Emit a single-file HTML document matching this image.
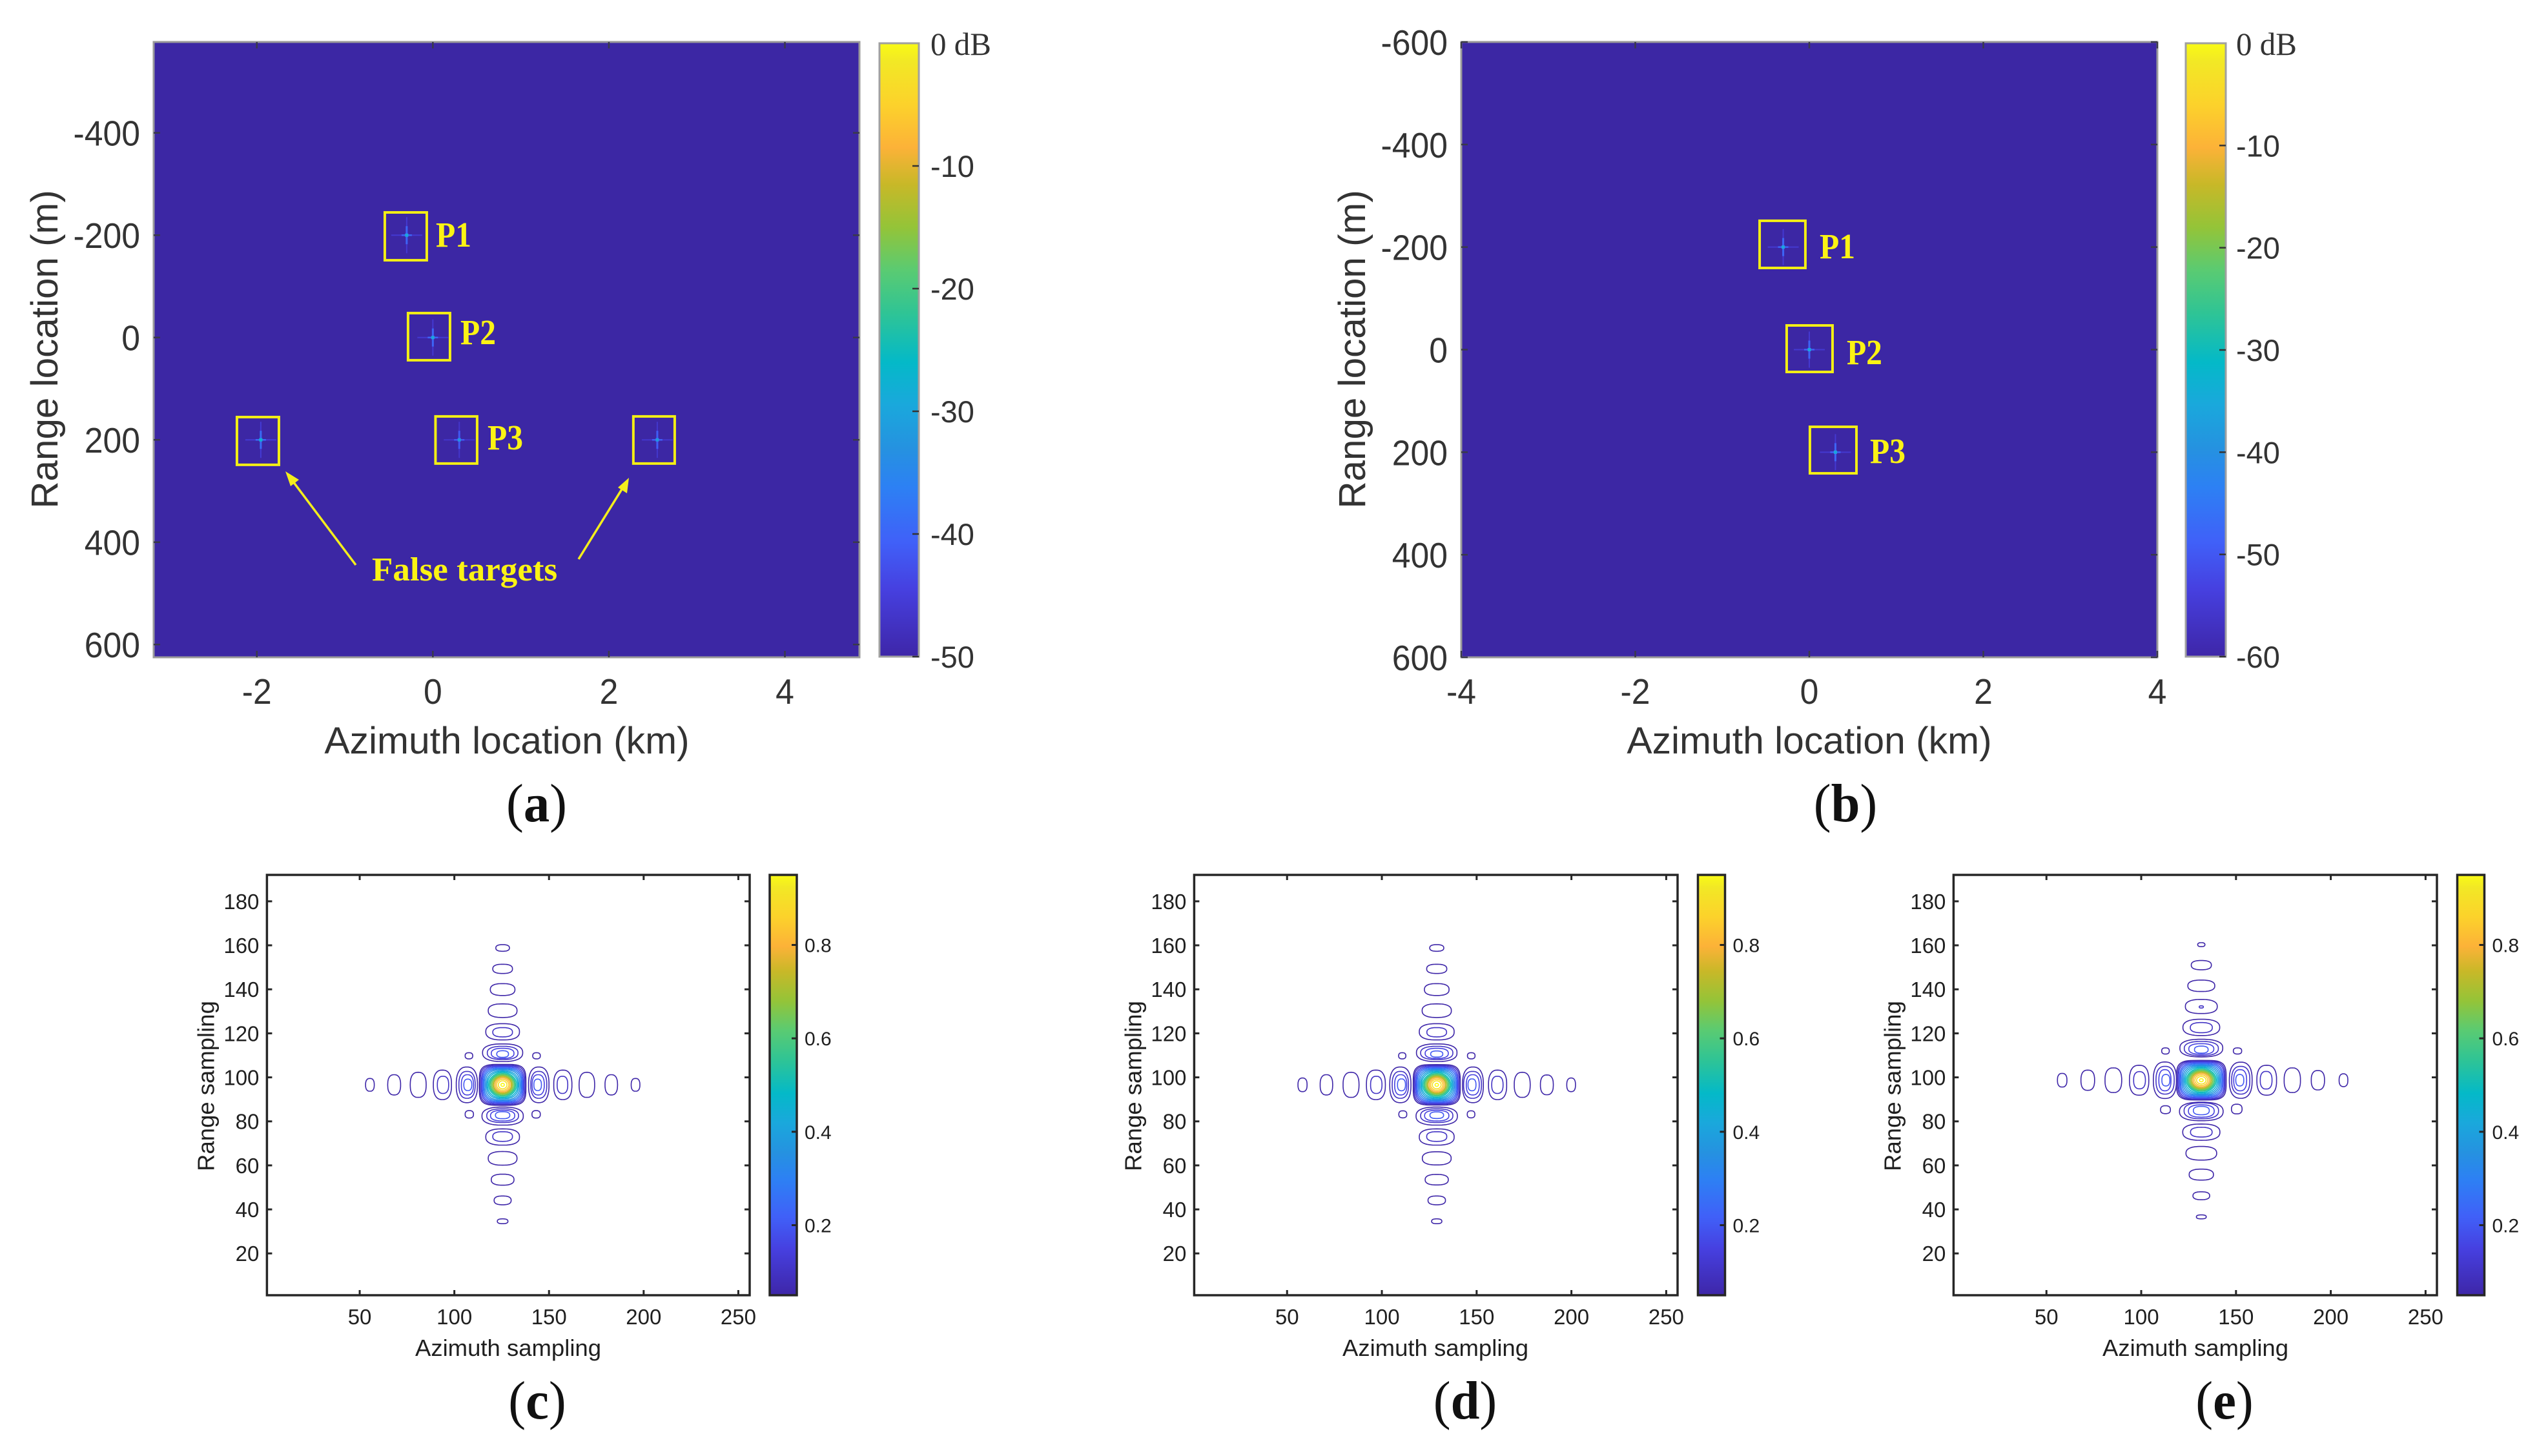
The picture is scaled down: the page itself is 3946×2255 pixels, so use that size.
<!DOCTYPE html>
<html lang="en">
<head>
<meta charset="utf-8">
<title>SAR point target imaging results</title>
<style>
html,body{margin:0;padding:0;background:#fff;}
svg{display:block;position:absolute;left:0;top:0;}
</style>
</head>
<body>
<svg id="figure" xmlns="http://www.w3.org/2000/svg" width="3946" height="2255" viewBox="0 0 3946 2255">
  <defs id="defs"></defs>
  <rect x="0" y="0" width="3946" height="2255" fill="#ffffff"></rect>
</svg>
<script>
/* ---------- top panel data (a, b) ---------- */
const azimuthTicksA = [-2, 0, 2, 4];
const rangeTicksA = [-400, -200, 0, 200, 400, 600];
const dbTicksA = [-10, -20, -30, -40, -50];
const azimuthTicksB = [-4, -2, 0, 2, 4];
const rangeTicksB = [-600, -400, -200, 0, 200, 400, 600];
const dbTicksB = [-10, -20, -30, -40, -50, -60];
/* target: azimuth km, range m, peak dB */
const targetsA = [[-0.297, -200, -30], [0.0, 0, -30], [0.30, 200, -33], [-1.955, 200, -28], [2.55, 200, -32]];
const targetsB = [[-0.3, -200, -36], [0.0, 0, -36], [0.3, 200, -36]];
/* box: azimuth min, azimuth max, range min, range max */
const boxesA = [[-0.546, -0.069, -244.5, -151], [-0.282, 0.195, -47.7, 44.4], [0.03, 0.503, 154.2, 246.3], [-2.226, -1.749, 155.5, 248.8], [2.278, 2.748, 154.2, 246.3]];
const boxesB = [[-0.571, -0.045, -251.3, -159.3], [-0.26, 0.267, -47.2, 43.5], [0.007, 0.542, 150.5, 241.2]];
const targetNamesA = ['P1', 'P2', 'P3'];
const targetNamesB = ['P1', 'P2', 'P3'];
const targetLabelPosA = [[0.034, -177.7], [0.313, 12.9], [0.621, 218.6]];
const targetLabelPosB = [[0.119, -178.2], [0.43, 28.3], [0.698, 221]];

/* ---------- bottom panel data (c, d, e) ---------- */
const azimuthSamplingTicks = [50, 100, 150, 200, 250];
const rangeSamplingTicks = [20, 40, 60, 80, 100, 120, 140, 160, 180];
const magnitudeTicks = [0.2, 0.4, 0.6, 0.8];
const mainLevels = [0.05, 0.10, 0.15, 0.20, 0.25, 0.30, 0.35, 0.40, 0.45, 0.50, 0.55, 0.60, 0.65, 0.70, 0.75, 0.80, 0.85, 0.90, 0.95];
const peakC = [125.5, 96.6];
const peakD = [128.95, 96.6];
const peakE = [131.7, 98.7];
const mainHalfAzC = [12.3, 11.8, 11.2, 10.7, 10.2, 9.7, 9.1, 8.5, 8.0, 7.4, 6.8, 6.3, 5.7, 5.1, 4.6, 3.9, 3.2, 2.3, 0.9];
const mainHalfRangeC = [9.3, 8.9, 8.5, 8.1, 7.7, 7.3, 6.9, 6.4, 6.0, 5.6, 5.1, 4.8, 4.4, 4.0, 3.6, 3.1, 2.5, 1.8, 0.7];
const mainHalfAzD = [12.4, 11.9, 11.3, 10.8, 10.3, 9.7, 9.1, 8.5, 8.0, 7.4, 6.8, 6.3, 5.7, 5.1, 4.6, 3.9, 3.2, 2.3, 0.9];
const mainHalfRangeD = [9.2, 8.8, 8.4, 8.0, 7.6, 7.2, 6.8, 6.4, 6.0, 5.6, 5.1, 4.8, 4.4, 4.0, 3.6, 3.1, 2.5, 1.8, 0.7];
const mainHalfAzE = [13.1, 12.5, 12.0, 11.4, 10.9, 10.3, 9.7, 9.1, 8.5, 7.9, 7.3, 6.7, 6.1, 5.5, 4.9, 4.2, 3.4, 2.5, 1.0];
const mainHalfRangeE = [9.0, 8.7, 8.3, 7.9, 7.5, 7.1, 6.7, 6.3, 5.9, 5.5, 5.0, 4.7, 4.3, 3.9, 3.5, 3.0, 2.4, 1.7, 0.7];
/* sidelobe ring: azimuth offset from peak, range offset from peak, half azimuth, half range, level */
const sidelobesC = [
 [-70.1,0,2.3,2.9,.05],[-57.3,0,3.4,4.6,.05],[-44.6,0,4.2,5.7,.05],[-31.8,0,4.8,6.7,.05],[-31.5,0,3.0,3.9,.1],
 [-18.9,0,5.6,8.1,.05],[-18.8,0,4.3,6.1,.1],[-18.6,0,3.2,4.6,.15],[-18.4,0,2.1,2.6,.2],
 [19.1,0,5.4,8.1,.05],[19.1,0,4.2,6.1,.1],[18.8,0,3.2,4.6,.15],[18.5,0,2.0,2.6,.2],
 [31.8,0,4.8,6.7,.05],[31.6,0,2.8,3.9,.1],[44.5,0,4.1,5.7,.05],[57.4,0,3.3,4.6,.05],[70.2,0,2.3,2.9,.05],
 [0,62.2,3.6,1.5,.05],[0,52.7,5.2,2.1,.05],[0,43.3,6.5,2.7,.05],[0,33.7,7.6,3.1,.05],[0,24.1,8.9,3.7,.05],[0,23.9,5.2,2.1,.1],
 [0,14.6,10.6,4.0,.05],[0,14.5,8.1,3.0,.1],[0,14.3,6.0,2.3,.15],[0,14.0,3.1,1.5,.2],
 [0,-14.2,10.9,4.1,.05],[0,-14.0,8.4,3.1,.1],[0,-14.0,6.4,2.4,.15],[0,-13.8,3.8,1.6,.2],
 [0,-23.7,8.9,3.7,.05],[0,-23.5,5.2,2.2,.1],[0,-33.4,7.6,3.1,.05],[0,-43.1,6.0,2.5,.05],[0,-52.5,4.5,2.0,.05],[0,-62,2.8,1.1,.05],
 [-17.8,13.2,2.0,1.4,.05],[17.9,13.2,2.0,1.4,.05],[-17.6,-13.4,2.2,1.7,.05],[17.7,-13.4,2.2,1.7,.05]
];
const sidelobesD = [
 [-70.8,0,2.4,3.1,.05],[-58.2,0,3.3,4.6,.05],[-45.2,0,4.2,5.7,.05],[-32.1,0,5.0,6.7,.05],[-31.9,0,3.0,3.9,.1],
 [-19.2,0,5.6,8.1,.05],[-19.2,0,4.3,6.1,.1],[-19,0,3.2,4.6,.15],[-18.6,0,2.1,2.7,.2],
 [19.1,0,5.5,8.1,.05],[18.9,0,4.7,6.1,.1],[19,0,3.4,4.6,.15],[18.6,0,2.1,2.7,.2],
 [32.1,0,4.8,6.7,.05],[32,0,3.0,3.9,.1],[45.1,0,4.2,5.7,.05],[58.1,0,3.4,4.5,.05],[70.9,0,2.3,3.1,.05],
 [0,62.2,3.7,1.5,.05],[0,52.7,5.3,2.1,.05],[0,43.3,6.5,2.7,.05],[0,33.7,7.7,3.1,.05],[0,24.1,9.2,3.7,.05],[0,23.9,5.2,2.1,.1],
 [0,14.6,10.7,4.0,.05],[0,14.5,8.5,3.0,.1],[0,14.3,6.1,2.3,.15],[0,14.0,3.2,1.4,.2],
 [0,-14.2,10.9,4.1,.05],[0,-14,8.5,3.1,.1],[0,-14,6.4,2.4,.15],[0,-13.8,3.6,1.5,.2],
 [0,-23.7,9.2,3.7,.05],[0,-23.5,5.3,2.2,.1],[0,-33.4,7.6,3.0,.05],[0,-43.1,6.1,2.4,.05],[0,-52.5,4.6,2.0,.05],[0,-62,2.7,1.1,.05],
 [-18.2,13.2,1.9,1.4,.05],[18.2,13.2,2.0,1.4,.05],[-17.9,-13.4,2.1,1.6,.05],[18.1,-13.4,2.0,1.6,.05]
];
const sidelobesE = [
 [-73.4,0,2.5,3.1,.05],[-59.9,0,3.6,4.6,.05],[-46.4,0,4.4,5.6,.05],[-32.8,0,5.1,6.8,.05],[-32.6,0,3.1,3.9,.1],
 [-19.2,0,6.1,8.3,.05],[-19.1,0,4.8,6.3,.1],[-19.2,0,3.2,4.8,.15],[-18.7,0,2.1,2.6,.2],
 [20.8,0,6.0,8.2,.05],[20.8,0,4.8,6.3,.1],[20.5,0,3.4,4.8,.15],[20.3,0,2.1,2.6,.2],
 [34.5,0,5.2,6.8,.05],[34.2,0,3.1,4.0,.1],[48.0,0,4.3,5.6,.05],[61.5,0,3.5,4.4,.05],[75,0,2.3,2.9,.05],
 [0,61.6,1.9,0.9,.05],[0,52.3,5.3,2.1,.05],[0,42.9,7.1,2.6,.05],[0,33.5,8.4,3.2,.05],[0,33.3,1.1,0.5,.1],[0,24,9.7,3.7,.05],[0,23.9,5.8,2.3,.1],
 [0,14.6,11.3,4.0,.05],[0,14.4,9.0,3.2,.1],[0,14.2,6.6,2.4,.15],[0,13.9,3.6,1.6,.2],
 [0,-14.2,11.5,4.2,.05],[0,-13.9,9.1,3.6,.1],[0,-14,6.8,2.8,.15],[0,-13.8,4.2,1.9,.2],
 [0,-23.6,9.8,3.7,.05],[0,-23.6,5.7,2.2,.1],[0,-33.2,8.1,3.1,.05],[0,-42.9,6.4,2.5,.05],[0,-52.5,4.4,1.8,.05],[0,-62.1,2.6,0.9,.05],
 [-18.9,13.3,2.0,1.4,.05],[19.1,13.3,2.2,1.4,.05],[-18.9,-13.4,2.6,1.8,.05],[18.7,-13.1,2.8,2.2,.05]
];

/* ---------- colormap ---------- */
const parulaStops = [[0,'#3e26a8'],[0.11,'#4640e0'],[0.186,'#4060f8'],[0.275,'#2d80f4'],[0.34,'#2592e0'],[0.41,'#1aa8dc'],[0.48,'#04b9c8'],[0.56,'#2fc495'],[0.63,'#5acb72'],[0.70,'#94c438'],[0.77,'#c8b828'],[0.83,'#fcb238'],[0.90,'#fcd22b'],[0.97,'#f2e825'],[1,'#f9fb15']];

const NS = 'http://www.w3.org/2000/svg';
const svg = document.getElementById('figure');
const defs = document.getElementById('defs');

function mk(parent, tag, attrs, text) {
  const el = document.createElementNS(NS, tag);
  for (const k in attrs) el.setAttribute(k, attrs[k]);
  if (text !== undefined) el.textContent = text;
  parent.appendChild(el);
  return el;
}
function scale(d0, d1, r0, r1) { return v => r0 + (v - d0) * (r1 - r0) / (d1 - d0); }
function hexRgb(h) { return [parseInt(h.slice(1,3),16), parseInt(h.slice(3,5),16), parseInt(h.slice(5,7),16)]; }
function cmap(f) {
  f = Math.max(0, Math.min(1, f));
  for (let i = 1; i < parulaStops.length; i++) {
    if (f <= parulaStops[i][0]) {
      const a = parulaStops[i-1], b = parulaStops[i];
      const t = (f - a[0]) / (b[0] - a[0]);
      const A = hexRgb(a[1]), B = hexRgb(b[1]);
      return 'rgb(' + A.map((c, j) => Math.round(c + (B[j] - c) * t)).join(',') + ')';
    }
  }
  return parulaStops[parulaStops.length-1][1];
}
function label(parent, x, y, str, size, o) {
  o = o || {};
  const t = 'translate(' + x + ' ' + y + ')' + (o.rot ? ' rotate(' + o.rot + ')' : '') + ' scale(' + (o.sx || 1) + ' 1)';
  return mk(parent, 'text', {
    transform: t, 'font-size': size, 'text-anchor': o.anchor || 'start',
    fill: o.fill || '#1f1f1f', 'font-family': o.family || '"Liberation Sans", Arial, sans-serif', 'font-weight': o.weight || 'normal'
  }, str);
}

const gradient = mk(defs, 'linearGradient', {id: 'parula', x1: 0, y1: 1, x2: 0, y2: 0});
parulaStops.forEach(s => mk(gradient, 'stop', {offset: s[0], 'stop-color': s[1]}));

function axesFrame(g, box, xs, ys, xTicks, yTicks, color, width, len) {
  xTicks.forEach(v => {
    const up = mk(g, 'line', {x1: xs(v), x2: xs(v), y1: box.bottom, y2: box.bottom - len, stroke: color, 'stroke-width': width});
    
    
    const down = mk(g, 'line', {x1: xs(v), x2: xs(v), y1: box.top, y2: box.top + len, stroke: color, 'stroke-width': width});
    
    
  });
  yTicks.forEach(v => {
    const l = mk(g, 'line', {x1: box.left, x2: box.left + len, y1: ys(v), y2: ys(v), stroke: color, 'stroke-width': width});
    
    
    const r = mk(g, 'line', {x1: box.right, x2: box.right - len, y1: ys(v), y2: ys(v), stroke: color, 'stroke-width': width});
    
    
  });
}

/* ---------- SAR image panels ---------- */
function drawImagePanel(cfg) {
  const g = mk(svg, 'g', {});
  
  
  const b = cfg.box;
  const xs = scale(cfg.xlim[0], cfg.xlim[1], b.left, b.right);
  const ys = scale(cfg.ylim[0], cfg.ylim[1], b.top, b.bottom);
  const dbs = scale(cfg.dbMin, 0, cfg.cb.bottom, cfg.cb.top);
  const bg = mk(g, 'rect', {x: b.left, y: b.top, width: b.right - b.left, height: b.bottom - b.top, fill: '#3c27a4', stroke: '#9a9a9a', 'stroke-width': 3});
  
  

  cfg.targets.forEach(t => {
    const cx = xs(t[0]), cy = ys(t[1]);
    const f = (t[2] - cfg.dbMin) / (-cfg.dbMin);
    const glow = mk(g, 'g', {});
    
    
    mk(glow, 'line', {x1: cx, x2: cx, y1: cy - 28, y2: cy + 28, stroke: cmap(f * 0.2), 'stroke-width': 2});
    mk(glow, 'line', {x1: cx - 24, x2: cx + 24, y1: cy, y2: cy, stroke: cmap(f * 0.2), 'stroke-width': 2});
    mk(glow, 'line', {x1: cx, x2: cx, y1: cy - 14, y2: cy + 14, stroke: cmap(f * 0.5), 'stroke-width': 3});
    mk(glow, 'line', {x1: cx - 8, x2: cx + 8, y1: cy, y2: cy, stroke: cmap(f * 0.5), 'stroke-width': 2.5});
    mk(glow, 'rect', {x: cx - 2.5, y: cy - 2.5, width: 5, height: 5, fill: cmap(f)});
  });

  cfg.boxes.forEach(q => {
    const r = mk(g, 'rect', {x: xs(q[0]), y: ys(q[2]), width: xs(q[1]) - xs(q[0]), height: ys(q[3]) - ys(q[2]), fill: 'none', stroke: '#f3ee15', 'stroke-width': 4});
    
    
  });
  cfg.targetNames.forEach((n, i) => {
    const t = label(g, xs(cfg.labelPos[i][0]), ys(cfg.labelPos[i][1]), n, 55, {family: '"Liberation Serif", serif', weight: 'bold', fill: '#fbf314', sx: 0.9});
    
    
  });

  axesFrame(g, b, xs, ys, cfg.xTicks, cfg.yTicks, '#3a3a48', 2.5, 10);

  cfg.xTicks.forEach(v => {
    const t = label(g, xs(v), 1090, String(v), 55, {anchor: 'middle', sx: 0.94, fill: '#333'});
    
    
  });
  cfg.yTicks.forEach(v => {
    const t = label(g, b.left - 21, ys(v) + 20, String(v), 55, {anchor: 'end', sx: 0.94, fill: '#333'});
    
    
  });
  const xt = label(g, cfg.xTitleX, 1167, 'Azimuth location (km)', 58.8, {anchor: 'middle', fill: '#333'});
  
  
  const yt = label(g, cfg.yTitleX, 541, 'Range location (m)', 58.4, {anchor: 'middle', rot: -90, fill: '#333'});
  
  

  const c = cfg.cb;
  const bar = mk(g, 'rect', {x: c.left, y: c.top, width: c.right - c.left, height: c.bottom - c.top, fill: 'url(#parula)', stroke: '#a0a0a0', 'stroke-width': 3});
  
  
  cfg.dbTicks.forEach(v => {
    const tk = mk(g, 'line', {x1: c.right - 10, x2: c.right, y1: dbs(v), y2: dbs(v), stroke: '#333', 'stroke-width': 2.5});
    
    
    const t = label(g, c.labelX, dbs(v) + 17, String(v), 47, {fill: '#333'});
    
    
  });
  const zero = label(g, c.labelX, 85, '0 dB', 50, {family: '"Liberation Serif", serif', sx: 0.98, fill: '#333'});
  
  
  return g;
}

/* ---------- contour panels ---------- */
function ringPath(xs, ys, cx, cy, ra, rr, e) {
  let d = '';
  const n = 72;
  for (let i = 0; i < n; i++) {
    const a = i / n * 2 * Math.PI;
    const c = Math.cos(a), s = Math.sin(a);
    const px = cx + ra * Math.sign(c) * Math.pow(Math.abs(c), 2 / e);
    const py = cy + rr * Math.sign(s) * Math.pow(Math.abs(s), 2 / e);
    d += (i ? 'L' : 'M') + xs(px).toFixed(1) + ' ' + ys(py).toFixed(1);
  }
  return d + 'Z';
}
function drawContourPanel(cfg) {
  const g = mk(svg, 'g', {});
  
  
  const b = {left: cfg.left, right: cfg.right, top: 1355, bottom: 2006};
  const xs = scale(1, 256, b.left, b.right);
  const ys = scale(1, 192, b.bottom, b.top);
  const ms = scale(0.05, 0.95, 2006, 1355);
  const levelColor = scale(0.05, 0.95, 0, 1);
  const plot = mk(g, 'rect', {x: b.left, y: b.top, width: b.right - b.left, height: b.bottom - b.top, fill: '#fff', stroke: '#262626', 'stroke-width': 3.5});
  
  

  cfg.sidelobes.forEach(r => {
    const p = mk(g, 'path', {d: ringPath(xs, ys, cfg.peak[0] + r[0], cfg.peak[1] + r[1], r[2], r[3], 2.5), fill: 'none', stroke: cmap(levelColor(r[4])), 'stroke-width': 1.6});
    
    
  });
  mainLevels.forEach((lv, i) => {
    const exponent = 2 + 2.2 * Math.max(0, 1 - i / 9);
    const p = mk(g, 'path', {d: ringPath(xs, ys, cfg.peak[0], cfg.peak[1], cfg.mainAz[i], cfg.mainRange[i], exponent), fill: 'none', stroke: cmap(levelColor(lv)), 'stroke-width': 1.6});
    
    
  });

  axesFrame(g, b, xs, ys, azimuthSamplingTicks, rangeSamplingTicks, '#262626', 3, 8);
  azimuthSamplingTicks.forEach(v => {
    const t = label(g, xs(v), 2051, String(v), 33, {anchor: 'middle'});
    
    
  });
  rangeSamplingTicks.forEach(v => {
    const t = label(g, b.left - 12, ys(v) + 12, String(v), 33, {anchor: 'end'});
    
    
  });
  const xt = label(g, cfg.xTitleX, 2100, 'Azimuth sampling', 36.5, {anchor: 'middle'});
  
  
  const yt = label(g, b.left - 82, 1682, 'Range sampling', 36.5, {anchor: 'middle', rot: -90});
  
  

  const bar = mk(g, 'rect', {x: cfg.cbLeft, y: 1355, width: 42, height: 651, fill: 'url(#parula)', stroke: '#262626', 'stroke-width': 3.5});
  
  
  magnitudeTicks.forEach(v => {
    const tk = mk(g, 'line', {x1: cfg.cbLeft + 34, x2: cfg.cbLeft + 42, y1: ms(v), y2: ms(v), stroke: '#262626', 'stroke-width': 3});
    
    
    const t = label(g, cfg.cbLeft + 54, ms(v) + 11, v.toFixed(1), 30);
    
    
  });
}

/* ---------- build ---------- */
const panelA = drawImagePanel({
  name: 'panel-a', box: {left: 238, right: 1331, top: 65, bottom: 1018},
  xlim: [-3.172, 4.847], ylim: [-577.6, 625], xTicks: azimuthTicksA, yTicks: rangeTicksA,
  targets: targetsA, boxes: boxesA, targetNames: targetNamesA, labelPos: targetLabelPosA,
  dbMin: -50, dbTicks: dbTicksA, cb: {left: 1362, right: 1423, top: 67, bottom: 1017, labelX: 1441},
  xTitleX: 785, yTitleX: 89
});
drawImagePanel({
  name: 'panel-b', box: {left: 2263, right: 3341, top: 65, bottom: 1018},
  xlim: [-4, 4], ylim: [-600, 600], xTicks: azimuthTicksB, yTicks: rangeTicksB,
  targets: targetsB, boxes: boxesB, targetNames: targetNamesB, labelPos: targetLabelPosB,
  dbMin: -60, dbTicks: dbTicksB, cb: {left: 3385, right: 3447, top: 67, bottom: 1017, labelX: 3463},
  xTitleX: 2802, yTitleX: 2114
});
drawContourPanel({name: 'panel-c', left: 413.4, right: 1161, cbLeft: 1192, xTitleX: 787, peak: peakC, sidelobes: sidelobesC, mainAz: mainHalfAzC, mainRange: mainHalfRangeC});
drawContourPanel({name: 'panel-d', left: 1849.4, right: 2598, cbLeft: 2629.5, xTitleX: 2223, peak: peakD, sidelobes: sidelobesD, mainAz: mainHalfAzD, mainRange: mainHalfRangeD});
drawContourPanel({name: 'panel-e', left: 3025.4, right: 3774, cbLeft: 3805.5, xTitleX: 3400, peak: peakE, sidelobes: sidelobesE, mainAz: mainHalfAzE, mainRange: mainHalfRangeE});

/* annotation in panel a */
const note = mk(panelA, 'text', {x: 0, y: 0, transform: 'translate(576 899) scale(1.02 1)', 'font-size': 52, 'font-weight': 'bold', fill: '#fbf314', 'font-family': '"Liberation Serif", serif'}, 'False targets');


const arrowL = mk(panelA, 'g', {stroke: '#f4ee1c', 'stroke-width': 3.5, fill: '#f4ee1c'});


mk(arrowL, 'line', {x1: 551, y1: 875, x2: 448, y2: 738});
mk(arrowL, 'polygon', {points: '442,730 463,743 450,753', stroke: 'none'});
const arrowR = mk(panelA, 'g', {stroke: '#f4ee1c', 'stroke-width': 3.5, fill: '#f4ee1c'});


mk(arrowR, 'line', {x1: 896, y1: 866, x2: 969, y2: 748});
mk(arrowR, 'polygon', {points: '974,740 971,764 957,755', stroke: 'none'});

/* sub-figure captions */
const captionText = ['a', 'b', 'c', 'd', 'e'];
const captionX = [831, 2858, 832, 2269, 3445];
const captionY = [1272, 1272, 2197, 2197, 2197];
captionText.forEach((c, i) => {
  const t = mk(svg, 'text', {transform: 'translate(' + captionX[i] + ' ' + captionY[i] + ') scale(0.96 1)', 'text-anchor': 'middle', 'font-size': 84, fill: '#111', 'font-family': '"Liberation Serif", serif'});
  
  
  mk(t, 'tspan', {}, '(');
  mk(t, 'tspan', {'font-weight': 'bold'}, c);
  mk(t, 'tspan', {}, ')');
});
</script>
</body>
</html>
